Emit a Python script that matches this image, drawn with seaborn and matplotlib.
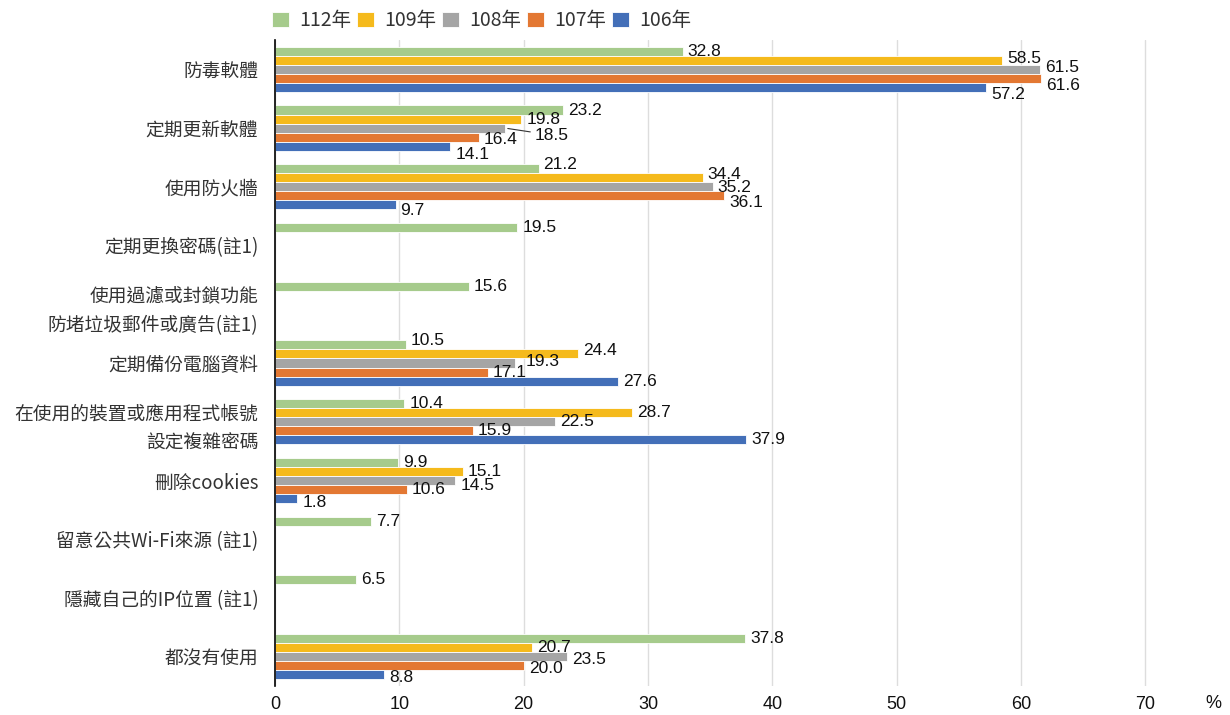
import numpy as np
import pandas as pd
import matplotlib
matplotlib.use("Agg")
import matplotlib.pyplot as plt
import seaborn as sns

# Survey: protective measures used (%), by year
categories = [
    "防毒軟體",
    "定期更新軟體",
    "使用防火牆",
    "定期更換密碼(註1)",
    "使用過濾或封鎖功能\n防堵垃圾郵件或廣告(註1)",
    "定期備份電腦資料",
    "在使用的裝置或應用程式帳號\n設定複雜密碼",
    "刪除cookies",
    "留意公共Wi-Fi來源 (註1)",
    "隱藏自己的IP位置 (註1)",
    "都沒有使用",
]
years = ["112年", "109年", "108年", "107年", "106年"]

y112 = [32.8, 23.2, 21.2, 19.5, 15.6, 10.5, 10.4, 9.9, 7.7, 6.5, 37.8]
y109 = [58.5, 19.8, 34.4, None, None, 24.4, 28.7, 15.1, None, None, 20.7]
y108 = [61.5, 18.5, 35.2, None, None, 19.3, 22.5, 14.5, None, None, 23.5]
y107 = [61.6, 16.4, 36.1, None, None, 17.1, 15.9, 10.6, None, None, 20.0]
y106 = [57.2, 14.1, 9.7, None, None, 27.6, 37.9, 1.8, None, None, 8.8]

colors = ["#A6CB8C", "#F5BA1C", "#A5A5A5", "#E37833", "#436FB8"]

rows = []
for yr, vals in zip(years, [y112, y109, y108, y107, y106]):
    for cat, v in zip(categories, vals):
        if v is not None:
            rows.append({"category": cat, "year": yr, "value": v})
df = pd.DataFrame(rows)

sns.set_theme(style="white")
plt.rcParams["font.family"] = ["Noto Sans CJK TC", "DejaVu Sans"]
num_font = ["Liberation Sans", "DejaVu Sans"]

fig = plt.figure(figsize=(12.3, 7.15), dpi=100)
ax = fig.add_axes([275 / 1230, 1 - 686 / 715, (1220 - 275) / 1230, (686 - 40) / 715])

sns.barplot(
    data=df, y="category", x="value", hue="year",
    order=categories, hue_order=years, palette=colors, saturation=1,
    orient="h", width=0.77, dodge=True, errorbar=None,
    edgecolor="white", linewidth=0.6, ax=ax, legend=True,
)

ax.set_xlim(0, 76)
ax.set_ylim(len(categories) - 0.5, -0.5)
ax.set_xticks(np.arange(0, 71, 10))
ax.set_xlabel("")
ax.set_ylabel("")
ax.xaxis.grid(True, color="#DDDDDD", linewidth=1)
ax.yaxis.grid(False)
ax.set_axisbelow(True)
for s in ["top", "right", "bottom"]:
    ax.spines[s].set_visible(False)
ax.spines["left"].set_color("black")
ax.spines["left"].set_linewidth(1.2)
ax.tick_params(axis="x", length=0, pad=7, labelsize=13, labelcolor="#111111")
ax.tick_params(axis="y", length=0, pad=12, labelsize=13.5, labelcolor="#333333")
for t in ax.get_yticklabels():
    t.set_linespacing(1.5)
for t in ax.get_xticklabels():
    t.set_family(num_font)
fig.text(1213 / 1230, 1 - 703 / 715, "%", ha="center", va="center",
         fontsize=13, color="#111111", family=num_font)

# Value labels; a few are nudged (pixels) to keep neighbours apart
nudge = {
    (0, "109年"): (0, -2), (0, "108年"): (0, -2),
    (0, "107年"): (0, 7), (0, "106年"): (0, 7),
    (1, "108年"): (25, 7), (1, "107年"): (0, 2), (1, "106年"): (0, 8),
    (2, "112年"): (0, -4), (2, "109年"): (0, -3), (2, "108年"): (0, 1),
    (2, "107年"): (0, 7), (2, "106年"): (0, 6),
    (5, "112年"): (0, -4), (5, "109年"): (0, -3), (5, "108年"): (6, -2),
    (7, "108年"): (0, 5), (7, "106年"): (0, 4),
    (10, "108年"): (0, 3), (10, "107年"): (0, 3), (10, "106年"): (0, 3),
}
bar_h = 0.77 / len(years)
for j, (yr, vals) in enumerate(zip(years, [y112, y109, y108, y107, y106])):
    for i, v in enumerate(vals):
        if v is None:
            continue
        yc = i - 0.77 / 2 + bar_h * (j + 0.5)
        dx, dy = nudge.get((i, yr), (0, 0))
        ax.annotate(
            f"{v:.1f}", xy=(v, yc), xytext=((5 + dx) * 0.72, -dy * 0.72),
            textcoords="offset points", ha="left", va="center",
            fontsize=12.5, color="#111111", family=num_font,
        )
        if dx > 10:
            ax.annotate(
                "", xy=(v, yc), xytext=((dx + 3) * 0.72, -dy * 0.72 + 2),
                textcoords="offset points",
                arrowprops=dict(arrowstyle="-", color="#333333", lw=0.8),
            )

leg = ax.get_legend()
handles = leg.legend_handles
leg.remove()
fig.legend(
    handles, years, loc="upper left", bbox_to_anchor=(272 / 1230, 1 - 10 / 715),
    ncol=5, frameon=False, fontsize=14, handlelength=0.85, handleheight=0.85,
    handletextpad=0.55, columnspacing=0.3, borderpad=0, borderaxespad=0,
    labelcolor="#333333",
)

fig.savefig("out.png", dpi=100, facecolor="white")
